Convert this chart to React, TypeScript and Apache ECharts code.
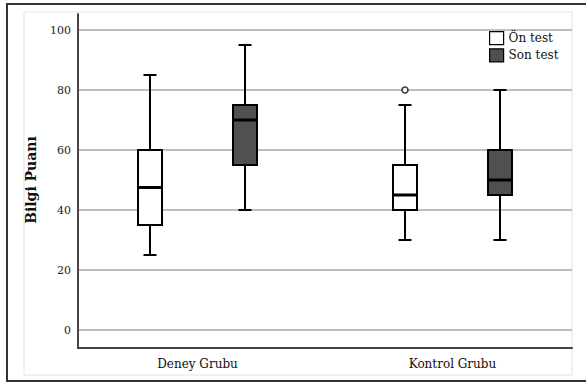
import React, { useEffect, useRef } from "react";
import * as echarts from "echarts";

const categories = ["Deney Grubu", "Kontrol Grubu"];
const seriesNames = ["Ön test", "Son test"];
// [min, Q1, median, Q3, max] per category
const onTest = [
  [25, 35, 47.5, 60, 85],
  [30, 40, 45, 55, 75],
];
const sonTest = [
  [40, 55, 70, 75, 95],
  [30, 45, 50, 60, 80],
];
// outliers: [categoryIndex, value]
const onTestOutliers = [[1, 80]];
const yTicks = { min: 0, max: 100, interval: 20 };

const FONT = "DejaVu Serif";
const BOX_OFFSET = 47.5;
const BOX_W = 24;
const CAP_W = 13;

function makeRender(offset: number, fill: string) {
  return (params: any, api: any) => {
    const ci = api.value(0);
    const cx = api.coord([ci, 0])[0] + offset;
    const y = (i: number) => api.coord([ci, api.value(i)])[1];
    const yMin = y(1), yQ1 = y(2), yMed = y(3), yQ3 = y(4), yMax = y(5);
    const lw = { stroke: "#000", lineWidth: 2 };
    return {
      type: "group",
      children: [
        { type: "line", shape: { x1: cx, y1: yMin, x2: cx, y2: yQ1 }, style: lw },
        { type: "line", shape: { x1: cx, y1: yQ3, x2: cx, y2: yMax }, style: lw },
        { type: "line", shape: { x1: cx - CAP_W / 2, y1: yMin, x2: cx + CAP_W / 2, y2: yMin }, style: lw },
        { type: "line", shape: { x1: cx - CAP_W / 2, y1: yMax, x2: cx + CAP_W / 2, y2: yMax }, style: lw },
        {
          type: "rect",
          shape: { x: cx - BOX_W / 2, y: yQ3, width: BOX_W, height: yQ1 - yQ3 },
          style: { fill, stroke: "#000", lineWidth: 2 },
        },
        {
          type: "line",
          shape: { x1: cx - BOX_W / 2, y1: yMed, x2: cx + BOX_W / 2, y2: yMed },
          style: { stroke: "#000", lineWidth: 3 },
        },
      ],
    };
  };
}

export default function App() {
  const ref = useRef<HTMLDivElement>(null);
  useEffect(() => {
    const chart = echarts.init(ref.current!, null, { renderer: "svg" });
    const toData = (arr: number[][]) => arr.map((d, i) => [i, ...d]);
    chart.setOption({
      animation: false,
      backgroundColor: "#fff",
      textStyle: { fontFamily: FONT },
      graphic: [
        {
          type: "rect",
          shape: { x: 7, y: 4, width: 600, height: 377 },
          style: { fill: "none", stroke: "#333", lineWidth: 2 },
          z: 100,
        },
        {
          type: "rect",
          shape: { x: 24, y: 12, width: 548, height: 363 },
          style: { fill: "none", stroke: "#e2e2e2", lineWidth: 1 },
        },
      ],
      legend: {
        orient: "vertical",
        left: 489,
        top: 31,
        padding: 0,
        itemWidth: 14,
        itemHeight: 13,
        itemGap: 3,
        textStyle: { fontFamily: FONT, fontSize: 12, color: "#111" },
        data: [
          { name: seriesNames[0], icon: "rect", itemStyle: { color: "#fff", borderColor: "#000", borderWidth: 1.2 } },
          { name: seriesNames[1], icon: "rect", itemStyle: { color: "#505050", borderColor: "#000", borderWidth: 1.2 } },
        ],
      },
      grid: [
        { left: 78, right: 14, top: 14, bottom: 36 },
        { left: 78, right: 14, top: 30, bottom: 54 },
        { left: 70, width: 510, top: 30, bottom: 54 },
      ],
      xAxis: [
        {
          gridIndex: 0, type: "value", min: 0, max: 1,
          axisLine: { show: true, lineStyle: { color: "#444", width: 2 } },
          axisTick: { show: false }, axisLabel: { show: false }, splitLine: { show: false },
        },
        { gridIndex: 1, type: "category", data: categories, show: false },
        {
          gridIndex: 2, type: "category", data: categories,
          axisLine: { show: false }, axisTick: { show: false }, splitLine: { show: false },
          axisLabel: { margin: 28, fontFamily: FONT, fontSize: 12, color: "#111" },
        },
      ],
      yAxis: [
        {
          gridIndex: 0, type: "value", min: 0, max: 1,
          axisLine: { show: true, lineStyle: { color: "#444", width: 2 } },
          axisTick: { show: false }, axisLabel: { show: false }, splitLine: { show: false },
        },
        {
          gridIndex: 1, type: "value", min: yTicks.min, max: yTicks.max, interval: yTicks.interval,
          name: "Bilgi Puanı", nameLocation: "middle", nameGap: 40,
          nameTextStyle: { fontFamily: FONT, fontSize: 14, fontWeight: "bold", color: "#111" },
          axisLine: { show: false }, axisTick: { show: false },
          axisLabel: { margin: 7, fontFamily: FONT, fontSize: 11, color: "#222" },
          splitLine: { show: true, lineStyle: { color: "#a8a8a8", width: 1.5 } },
        },
        { gridIndex: 2, type: "value", min: yTicks.min, max: yTicks.max, show: false },
      ],
      series: [
        {
          name: seriesNames[0], type: "custom", xAxisIndex: 2, yAxisIndex: 2,
          renderItem: makeRender(-BOX_OFFSET, "#fff"),
          encode: { x: 0, y: [1, 2, 3, 4, 5] },
          data: toData(onTest),
          itemStyle: { color: "#fff" },
        },
        {
          name: seriesNames[1], type: "custom", xAxisIndex: 2, yAxisIndex: 2,
          renderItem: makeRender(BOX_OFFSET, "#505050"),
          encode: { x: 0, y: [1, 2, 3, 4, 5] },
          data: toData(sonTest),
          itemStyle: { color: "#505050" },
        },
        {
          name: "outlier", type: "scatter", xAxisIndex: 2, yAxisIndex: 2,
          data: onTestOutliers,
          symbol: "circle", symbolSize: 6, symbolOffset: [-BOX_OFFSET, 0],
          itemStyle: { color: "#fff", borderColor: "#000", borderWidth: 1.5 },
          z: 5,
        },
      ],
    });
    return () => chart.dispose();
  }, []);
  return (
    <div
      ref={ref}
      style={{ position: "fixed", left: 0, top: 0, width: 586, height: 384 }}
    />
  );
}
